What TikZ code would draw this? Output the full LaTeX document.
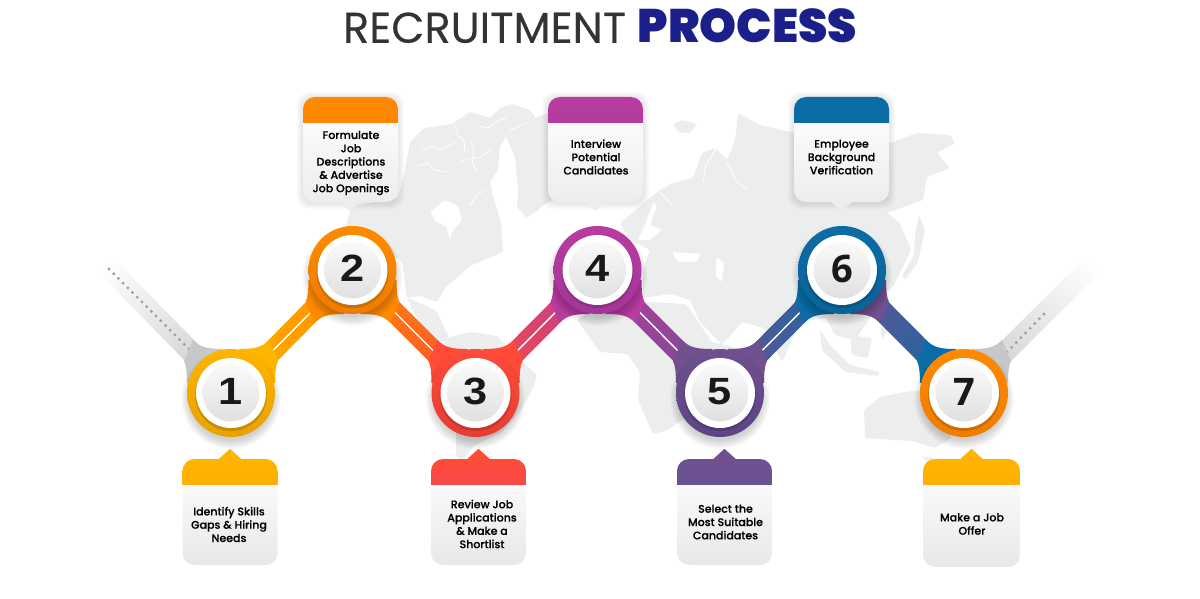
\documentclass[tikz,border=0pt]{standalone}
\usepackage{fontspec}
\setmainfont{Poppins}
\newfontfamily\cardfont{Poppins}[UprightFont=* Medium,FakeBold=0.25]
\newfontfamily\titlefont{Poppins}[UprightFeatures={FakeBold=0.2},BoldFont=* Black]
\newfontfamily\digitfont{Liberation Sans}[FakeStretch=1.14]
\newfontfamily\digitalt{Open Sans}
\usetikzlibrary{calc}
\pgfdeclarelayer{ribbon}
\pgfsetlayers{ribbon,main}
\definecolor{mapgrey}{HTML}{ECEDED}
\definecolor{tailgrey}{HTML}{C6C7C7}
\definecolor{navy}{HTML}{1B1F8A}
\definecolor{amber}{HTML}{FFB400}
\definecolor{amberdk}{HTML}{E8A200}
\definecolor{orange}{HTML}{FF8A00}
\definecolor{orangedk}{HTML}{EE7C00}
\definecolor{coral}{HTML}{FF4B38}
\definecolor{coraldk}{HTML}{E63C33}
\definecolor{rose}{HTML}{DF407F}
\definecolor{magenta}{HTML}{B83BA0}
\definecolor{magentadk}{HTML}{A4359A}
\definecolor{plum}{HTML}{70508F}
\definecolor{plumdk}{HTML}{5E4484}
\definecolor{steel}{HTML}{4A5F9C}
\definecolor{ocean}{HTML}{0C6CA5}
\definecolor{oceandk}{HTML}{0A6299}
\newcommand{\ribbon}[4]{%
  \path let \p1=($(#2)-(#1)$),\n1={atan2(\y1,\x1)},\n2={veclen(\x1,\y1)} in
    \pgfextra{\xdef\ribang{\n1}\xdef\riblen{\n2}};
  \begin{scope}[transform canvas={shift={(#1)},rotate=\ribang}]
    \shade[left color=#3,right color=#4] (0,-10.5) rectangle (\riblen,10.5);
  \end{scope}}
\newcommand{\joint}[4]{%
  \begin{scope}[shift={(#1)},xscale=#2,yscale=#3]
    \fill[#4] (38,-53) .. controls (31,-46) and (25,-44) .. (8,-44) -- (0,0)
      -- (44,-10) .. controls (44.2,-20) and (44.5,-27) .. (47,-32) -- cycle;
  \end{scope}}
\begin{document}
\begin{tikzpicture}[x=1pt,y=-1pt,
    stepring/.style n args={2}{circle,minimum size=88pt,inner sep=0pt,
      top color=#1,bottom color=#2,text=black!90,
      font=\digitfont\bfseries\fontsize{38}{38}\selectfont,text depth=3pt,
      path picture={
        \fill[black,opacity=.14] ([yshift=-2pt]path picture bounding box.center) circle (36pt);
        \fill[white] (path picture bounding box.center) circle (35pt);
        \shade[top color=black!2,bottom color=black!12] (path picture bounding box.center) circle (28.5pt);}},
    infocard/.style n args={4}{rectangle,rounded corners=12pt,inner sep=0pt,
      minimum width=95pt,minimum height=#3,top color=white,middle color=white,bottom color=#4,
      path picture={
        \shade[sharp corners,top color=#1,bottom color=#2] (path picture bounding box.north west)
          rectangle ([yshift=-25.5pt]path picture bounding box.north east);}},
    cardtext/.style={align=center,inner sep=0pt,text=black,
      font=\cardfont\fontsize{11}{13.3}\selectfont},
    land/.style={fill=mapgrey,rounded corners=1.5pt},
    fjord/.style={white,line width=.8pt,line cap=round,line join=round},
    whiteline/.style={white,line width=1.4pt},
    taildot/.style={fill=black!38,circle,inner sep=0pt,minimum size=3.2pt}]
  \useasboundingbox (0,0) rectangle (1200,599);
  \node[font=\titlefont\fontsize{43}{43}\selectfont,text=black!80,inner sep=0pt] (title) at (600,26)
    {RECRUITMENT \textcolor{navy}{\bfseries\fontsize{47}{47}\selectfont PROCESS}};

  \node[stepring={amber}{amberdk}] (c1) at (231,393) {1};
  \node[stepring={orange}{orangedk}] (c2) at (352.5,270) {2};
  \node[stepring={coral}{coraldk}] (c3) at (475.5,393) {3};
  \node[stepring={magenta}{magentadk}] (c4) at (597.5,270) {4};
  \node[stepring={plum}{plumdk}] (c5) at (720,393) {5};
  \node[stepring={ocean}{oceandk},font=\digitalt\bfseries\fontsize{38}{38}\selectfont] (c6) at (842,270) {6};
  \node[stepring={orange}{orangedk},font=\digitalt\bfseries\fontsize{38}{38}\selectfont] (c7) at (964,393) {7};
  \coordinate (tailw) at (104,263);
  \coordinate (taile) at (1094,264);

  \node[infocard={orange}{orange!85!red}{105pt}{black!7}] (b2) at (350.5,149.5) {};
  \node[infocard={magenta}{magenta!75!plum}{105pt}{black!7}] (b4) at (595.5,149.5) {};
  \node[infocard={ocean}{ocean}{105pt}{black!7}] (b6) at (841.5,149.5) {};
  \node[infocard={amber}{amber!90!red}{106pt}{black!9}] (b1) at (230,512) {};
  \node[infocard={coral}{rose}{106pt}{black!9}] (b3) at (478.5,512) {};
  \node[infocard={plum}{steel}{106pt}{black!9}] (b5) at (724.5,512) {};
  \node[infocard={amber}{amber!90!red}{108pt}{black!9},minimum width=97pt] (b7) at (971.5,513) {};

  \foreach \b in {b2,b4,b6}
    \fill[black!7] ($(\b.south)+(-10,0)$) -- ($(\b.south)+(0,9)$) -- ($(\b.south)+(10,0)$) -- cycle;
  \fill[amber] ($(b1.north)+(-11,0)$) -- ($(b1.north)+(0,-10)$) -- ($(b1.north)+(11,0)$) -- cycle;
  \fill[coral] ($(b3.north)+(-11,0)$) -- ($(b3.north)+(0,-10)$) -- ($(b3.north)+(11,0)$) -- cycle;
  \fill[plum] ($(b5.north)+(-11,0)$) -- ($(b5.north)+(0,-10)$) -- ($(b5.north)+(11,0)$) -- cycle;
  \fill[amber] ($(b7.north)+(-11,0)$) -- ($(b7.north)+(0,-10)$) -- ($(b7.north)+(11,0)$) -- cycle;

  \node[cardtext] (t2) at (351,163) {Formulate\\Job\\Descriptions\\\& Advertise\\Job Openings};
  \node[cardtext] (t4) at (596,157) {Interview\\Potential\\Candidates};
  \node[cardtext] (t6) at (841.5,157) {Employee\\Background\\Verification};
  \node[cardtext] (t1) at (229,524.5) {Identify Skills\\Gaps \& Hiring\\Needs};
  \node[cardtext] (t3) at (482,524) {Review Job\\Applications\\\& Make a\\Shortlist};
  \node[cardtext] (t5) at (725.5,522) {Select the\\Most Suitable\\Candidates};
  \node[cardtext] (t7) at (972,524) {Make a Job\\Offer};

  \begin{pgfonlayer}{ribbon}
    % north america
    \fill[land] (345,228) -- (352,206) -- (398,198) -- (405,170) -- (410,142) -- (424,128) -- (452,124)
      -- (470,112) -- (490,118) -- (500,108) -- (512,104) -- (530,110) -- (536,118) -- (510,130) -- (500,146)
      -- (498,170) -- (490,182) -- (494,200) -- (501,222) -- (503,252) -- (470,266) -- (445,288) -- (437,302)
      -- (420,296) -- (407,298) -- (402,262) -- (376,240) -- cycle;
    \fill[land] (407,298) -- (425,305) -- (437,312) -- (450,340) -- (440,342) -- (420,325) -- cycle;
    \fill[white,rounded corners=2pt] (430,212) -- (445,200) -- (458,206) -- (462,220) -- (452,232) -- (450,240) -- (446,226) -- (436,222) -- cycle;
    \draw[fjord] (422,150) -- (432,146) -- (440,150) -- (455,143);
    \draw[fjord] (418,166) -- (428,163) -- (434,170) -- (446,172);
    \draw[fjord] (455,125) -- (458,136) -- (464,140) -- (465,152);
    \draw[fjord] (470,140) -- (474,150) -- (472,160) -- (476,172);
    \draw[fjord] (460,162) -- (470,158) -- (480,158) -- (490,150);
    \draw[fjord] (478,126) -- (488,128) -- (496,122) -- (506,118);
    \draw[fjord] (484,190) -- (476,196) -- (470,206);
    % greenland
    \fill[land] (505,134) -- (540,116) -- (570,105) -- (600,112) -- (580,187) -- (547,203) -- (527,218)
      -- (517,207) -- (518,190) -- (515,157) -- cycle;
    % south america
    \fill[land] (445,338) -- (470,332) -- (497,336) -- (512,352) -- (537,375) -- (534,386) -- (520,412)
      -- (502,432) -- (474,446) -- (462,460) -- (456,456) -- (456,400) -- (444,372) -- cycle;
    % eurasia
    \fill[land] (643,298) -- (643,270) -- (650,250) -- (630,240) -- (620,223) -- (660,190) -- (673,183)
      -- (693,178) -- (702,153) -- (715,148) -- (727,160) -- (735,140) -- (738,113) -- (760,125) -- (795,133)
      -- (850,140) -- (890,143) -- (917,133) -- (950,135) -- (955,143) -- (937,153) -- (950,168) -- (927,177)
      -- (923,200) -- (887,213) -- (900,223) -- (911,250) -- (893,287) -- (885,292) -- (870,318) -- (855,340)
      -- (835,335) -- (826,318) -- (800,322)
      -- (782,362) -- (764,328) -- (742,322) -- (722,345) -- (700,322) -- (690,300) -- (670,294) -- cycle;
    \fill[white,rounded corners=1pt] (672,252) -- (700,254) -- (697,262) -- (678,262) -- cycle;
    \fill[white,rounded corners=1pt] (716,258) -- (724,262) -- (722,282) -- (716,276) -- cycle;
    \fill[white,rounded corners=1pt] (653,203) -- (657,206) -- (650,225) -- (662,230) -- (650,240) -- (638,240) -- (645,225) -- cycle;
    \draw[fjord] (703,182) -- (706,165) -- (717,147);
    \draw[fjord] (727,163) -- (732,172) -- (735,180) -- (747,190);
    \draw[fjord] (660,192) -- (666,198) -- (672,205);
    \fill[land] (673,124) -- (682,120) -- (697,124) -- (690,133) -- (678,132) -- cycle;
    % africa
    \fill[land] (577,320) -- (600,304) -- (650,302) -- (686,304) -- (712,342) -- (745,350) -- (724,384)
      -- (690,414) -- (668,430) -- (653,434) -- (638,400) -- (640,372) -- (627,354) -- (600,352) -- cycle;
    % japan and the islands
    \fill[land] (919,215) -- (925,230) -- (918,262) -- (905,280) -- (902,276) -- (914,255) -- (915,235) -- cycle;
    \fill[land] (820,330) -- (830,345) -- (850,365) -- (880,372) -- (878,376) -- (845,372) -- (822,350) -- cycle;
    \fill[land] (850,335) -- (872,338) -- (868,358) -- (852,355) -- cycle;
    \fill[land] (880,320) -- (888,330) -- (882,340) -- cycle;
    % australia
    \fill[land] (864,410) -- (880,397) -- (905,392) -- (922,390) -- (935,410) -- (952,437) -- (935,448) -- (913,441) -- (895,440) -- (865,438) -- cycle;
    \fill[land] (922,456) -- (934,458) -- (930,466) -- cycle;

    \ribbon{c1}{tailw}{tailgrey}{white}
    \ribbon{c7}{taile}{tailgrey}{white}
    \foreach \t in {0,...,17}
      \node[taildot] (dw\t) at ($(189,349)!\t/17!(109,269)$) {};
    \foreach \t in {0,...,8}
      \node[taildot] (de\t) at ($(1007,352)!\t/8!(1044,314)$) {};

    \ribbon{c1}{c2}{amber}{orange}
    \ribbon{c2}{c3}{orange}{coral}
    \ribbon{c3}{c4}{coral}{magenta}
    \ribbon{c4}{c5}{magenta}{plum}
    \ribbon{c5}{c6}{plum}{ocean}
    \ribbon{c6}{c7}{plum}{ocean}
    \foreach \a/\b in {c1/c2,c2/c3,c3/c4,c4/c5,c5/c6}
      \draw[whiteline] ($(\a)!.27!(\b)$) -- ($(\a)!.73!(\b)$);

    \joint{c1}{-1}{1}{tailgrey}
    \joint{c1}{1}{1}{amber}
    \joint{c2}{-1}{-1}{orange}
    \joint{c2}{1}{-1}{orange}
    \joint{c3}{-1}{1}{coral}
    \joint{c3}{1}{1}{coral}
    \joint{c4}{-1}{-1}{magenta}
    \joint{c4}{1}{-1}{magenta}
    \joint{c5}{-1}{1}{plum}
    \joint{c5}{1}{1}{plum}
    \joint{c6}{-1}{-1}{ocean}
    \joint{c6}{1}{-1}{plum}
    \joint{c7}{-1}{1}{ocean}
    \joint{c7}{1}{1}{tailgrey}

    \foreach \n in {c1,c2,c3,c4,c5,c6,c7}
      \foreach \r in {41,...,50}
        \fill[black,opacity=.02] ([yshift=-6pt]\n) circle (\r pt);
    \foreach \b in {b2,b4,b6}
      \foreach \g in {1,...,6}
        \fill[black,opacity=.016,rounded corners=12pt]
          ([xshift=-\g pt,yshift=\g pt-1pt]\b.north west) rectangle ([xshift=\g pt,yshift=-\g pt-1pt]\b.south east);
  \end{pgfonlayer}
\end{tikzpicture}
\end{document}
